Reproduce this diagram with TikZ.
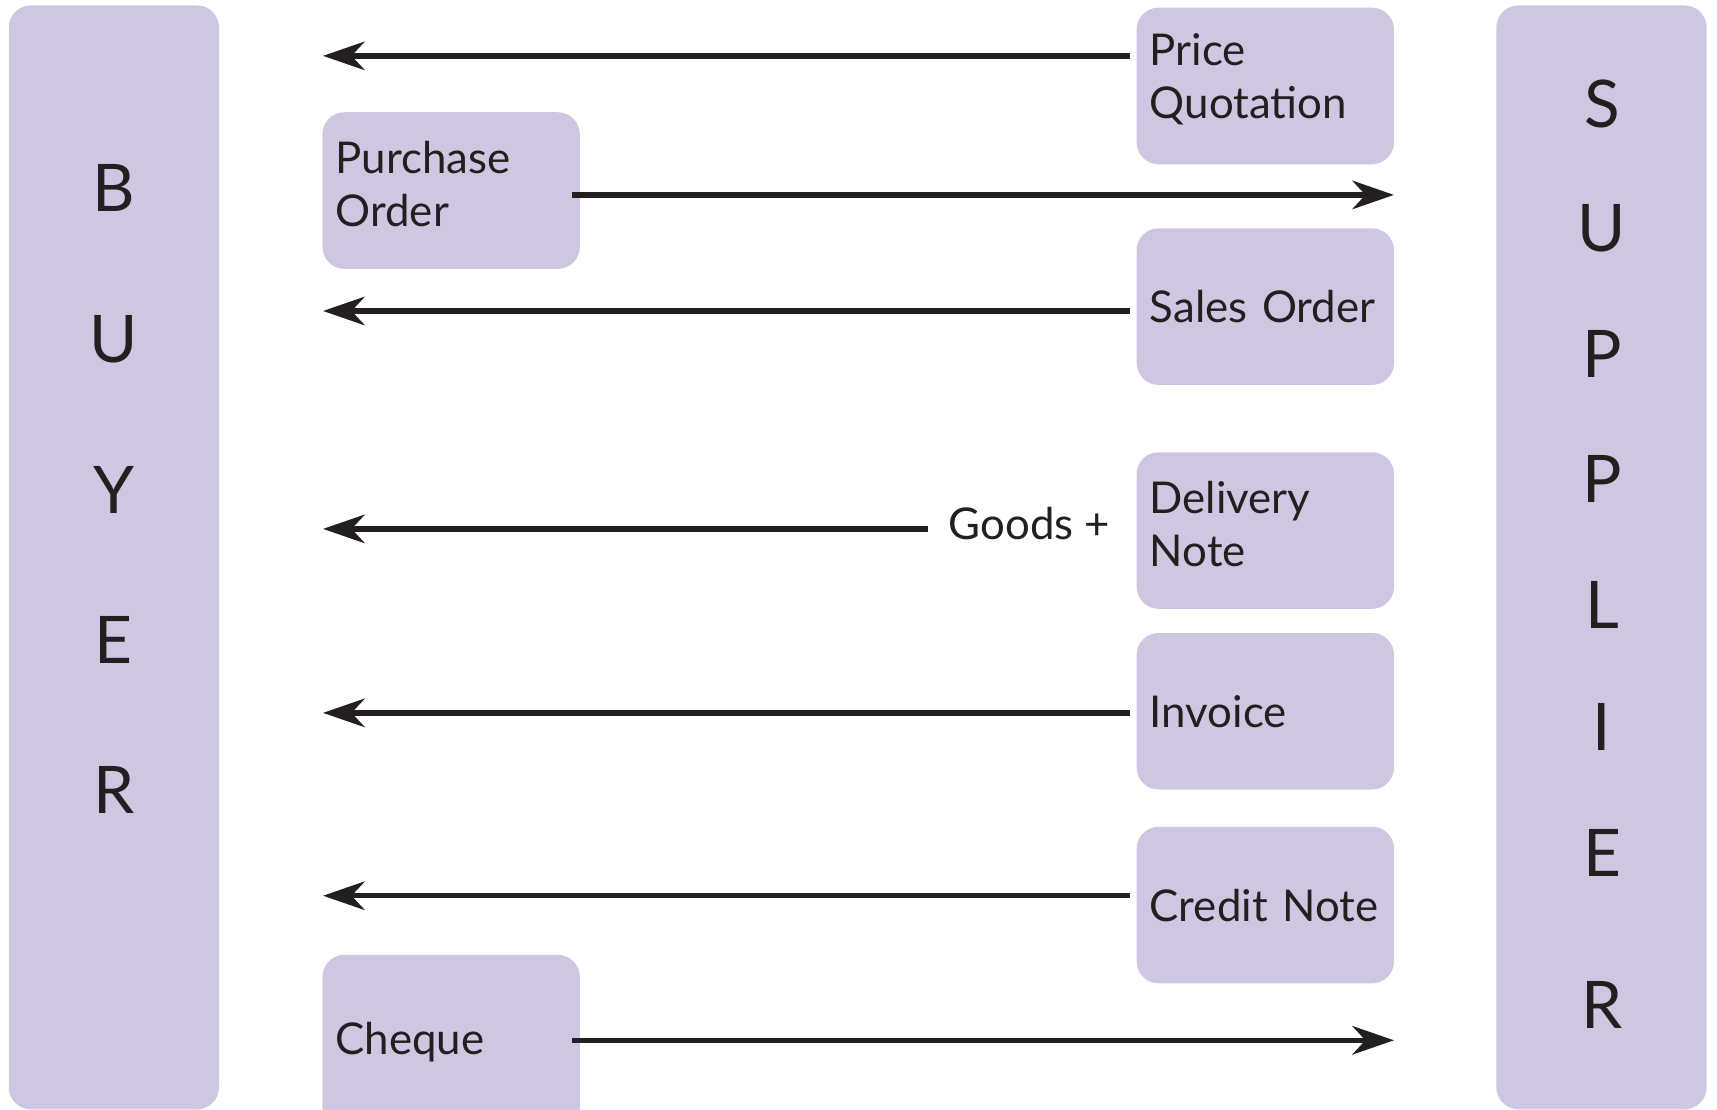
\documentclass[tikz,border=0pt]{standalone}
\usepackage{fontspec}
\setmainfont{Lato}
\usetikzlibrary{arrows.meta}
\definecolor{lav}{RGB}{207,198,225}
\definecolor{ink}{RGB}{35,31,32}
\tikzset{
  party/.style={fill=lav, rounded corners=10pt, minimum width=96pt, minimum height=504pt, inner sep=0pt},
  big/.style={font=\fontsize{30}{30}\selectfont, text=ink, inner sep=0pt},
  doc/.style={fill=lav, rounded corners=10pt, minimum width=117.5pt, minimum height=71.5pt,
              text width=105.5pt, inner xsep=6pt, inner ysep=0pt, align=left,
              font=\fontsize{20}{24}\selectfont, text=ink},
  lbl/.style={font=\fontsize{20}{24}\selectfont, text=ink, inner sep=0pt},
  arr/.style={draw=ink, line width=2.5pt, -{Stealth[length=19pt, width=13pt, inset=6pt]}},
}
\begin{document}
\begin{tikzpicture}[x=0.5pt, y=-0.5pt]
\useasboundingbox (0,0) rectangle (1568,1013);
% parties
\node[party] (buyer) at (104,509) {};
\node[party] (supplier) at (1462.5,509) {};
\foreach \l/\y [count=\i] in {B/172,U/310,Y/447,E/584,R/721}
  \node[big] (b\i) at (104,\y) {\l};
\foreach \l/\y [count=\i] in {S/95,U/208,P/323,P/437,L/552,I/664,E/779,R/918}
  \node[big] (s\i) at (1463,\y) {\l};
% documents
\node[doc] (pq) at (1155.5,78.5) {Price\\Quotation\par\vspace{6pt}};
\node[doc] (po) at (412,174) {Purchase\\Order\par\vspace{6pt}};
\node[doc] (so) at (1155.5,280) {Sales Order};
\node[doc] (dn) at (1155.5,484.5) {Delivery\\Note\par\vspace{6pt}};
\node[doc] (inv) at (1155.5,649.5) {Invoice};
\node[doc] (cn) at (1155.5,826.5) {Credit Note};
\node[doc, minimum height=80pt] (ch) at (412,952) {Cheque};
\node[lbl] (goods) at (940,478) {Goods +};
% connector ends
\coordinate (l1) at (295,51);
\coordinate (r1) at (1273,178);
\coordinate (l2) at (295,284);
\coordinate (l3) at (295,483);
\coordinate (l4) at (295,651);
\coordinate (l5) at (295,818);
\coordinate (r2) at (1273,950);
% connectors
\draw[arr, shorten <=3pt] (pq.west |- l1) -- (l1);
\draw[arr, shorten <=-4pt] (po.east |- r1) -- (r1);
\draw[arr, shorten <=3pt] (so.west |- l2) -- (l2);
\draw[arr, shorten <=9pt] (goods.west |- l3) -- (l3);
\draw[arr, shorten <=3pt] (inv.west |- l4) -- (l4);
\draw[arr, shorten <=3pt] (cn.west |- l5) -- (l5);
\draw[arr, shorten <=-4pt] (ch.east |- r2) -- (r2);
\end{tikzpicture}
\end{document}
